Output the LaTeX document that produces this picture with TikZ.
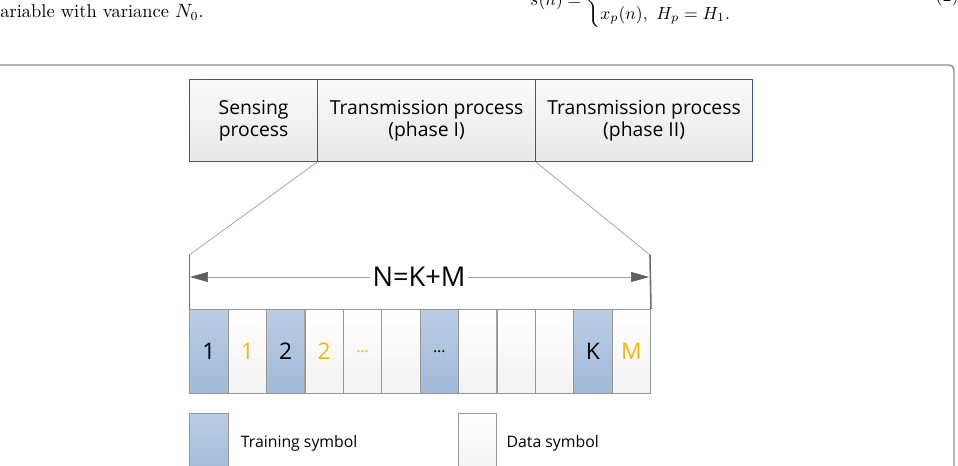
\documentclass[tikz,border=0pt]{standalone}
\usepackage{amsmath}
\usepackage{fontspec}
\newfontfamily\diagfont{Open Sans}
\usetikzlibrary{arrows.meta,positioning}
\definecolor{FrameGray}{RGB}{140,140,140}
\definecolor{BoxBlue}{RGB}{62,82,160}
\definecolor{BoxTop}{RGB}{250,250,250}
\definecolor{BoxBot}{RGB}{232,232,232}
\definecolor{TrainTop}{RGB}{186,205,228}
\definecolor{TrainBot}{RGB}{160,186,216}
\definecolor{DataTop}{RGB}{255,255,255}
\definecolor{DataBot}{RGB}{242,242,242}
\definecolor{CellGray}{RGB}{150,150,150}
\definecolor{DataGold}{RGB}{240,185,10}
\definecolor{LineGray}{RGB}{160,160,160}
\definecolor{EdgeGray}{RGB}{110,110,110}
\definecolor{TipGray}{RGB}{95,95,95}

\begin{document}
\begin{tikzpicture}[x=0.02cm, y=-0.02cm,
  procbox/.style={draw=BoxBlue, line width=0.7pt, top color=BoxTop, bottom color=BoxBot,
    minimum height=1.64cm, inner sep=0pt, align=center, anchor=north west,
    font=\diagfont\fontsize{11}{12.5}\selectfont},
  cellbox/.style={draw=CellGray, line width=0.5pt, minimum width=0.768cm, minimum height=1.68cm,
    inner sep=0pt, anchor=north west, font=\diagfont\fontsize{13}{15}\selectfont},
  traincell/.style={cellbox, top color=TrainTop, bottom color=TrainBot},
  datacell/.style={cellbox, top color=DataTop, bottom color=DataBot, text=DataGold},
  legendtext/.style={inner sep=0pt, yshift=0.06cm, font=\diagfont\fontsize{9}{11}\selectfont},
  bigtip/.style={-{Triangle[length=0.36cm, width=0.2cm, color=TipGray]}}]
  \useasboundingbox (0,0) rectangle (958,466);
  \clip (0,0) rectangle (958,466);
  \fill[white] (0,0) rectangle (958,466);

  % Page text around the figure
  \node[anchor=base west, inner sep=0pt, font=\fontsize{10.5}{12}\selectfont] (varText) at (0,18) {ariable with variance $N_0$.};
  \node[anchor=base east, inner sep=0pt, font=\fontsize{10}{12}\selectfont] (eqCase) at (750,6)
    {$s(n) = \begin{cases}\phantom{x_p(n),\ H_p = H_0,}\\ x_p(n),\ H_p = H_1.\end{cases}$};
  \node[anchor=base west, inner sep=0pt, font=\fontsize{10.5}{12}\selectfont] (eqNum) at (935,2) {(2)};

  % Figure frame
  \draw[FrameGray, line width=0.8pt, rounded corners=0.1cm] (-20,65) rectangle (954,490);

  % Process boxes
  \node[procbox, minimum width=2.56cm] (sense) at (189,79) {Sensing\\process};
  \node[procbox, minimum width=4.36cm] (phaseOne) at (317,79) {Transmission process\\(phase I)};
  \node[procbox, minimum width=4.34cm] (phaseTwo) at (535,79) {Transmission process\\(phase II)};

  % Symbol frame
  \foreach \i/\lab in {1/1, 3/2, 7/{\fontsize{9}{11}\selectfont\ldots}, 11/K}{
    \node[traincell] (c\i) at ({189.3+(\i-1)*38.4},309) {\lab};
  }
  \foreach \i/\lab in {2/1, 4/2, 5/{\fontsize{9}{11}\selectfont\ldots}, 6/{}, 8/{}, 9/{}, 10/{}, 12/M}{
    \node[datacell] (c\i) at ({189.3+(\i-1)*38.4},309) {\lab};
  }

  % Zoom lines and length marker
  \coordinate (brL) at (189.3,255);
  \coordinate (brR) at (650,255);
  \draw[LineGray, line width=0.4pt] (phaseOne.south west) -- (brL);
  \draw[LineGray, line width=0.4pt] (phaseOne.south east) -- (brR);
  \draw[EdgeGray, line width=0.9pt] (brL) -- (c1.north west);
  \draw[EdgeGray, line width=0.9pt] (brR) -- (c12.north east);
  \node[fill=white, inner sep=1pt, font=\diagfont\fontsize{15.5}{18}\selectfont] (total) at (419,277) {N=K+M};
  \coordinate (arL) at (190,277);
  \coordinate (arR) at (649,277);
  \draw[LineGray, line width=0.4pt, bigtip] (total) -- (arL);
  \draw[LineGray, line width=0.4pt, bigtip] (total) -- (arR);

  % Legend
  \node[traincell, minimum height=1.3cm] (legTrain) at (189.3,413) {};
  \node[legendtext, right=0.24cm of legTrain] (legTrainText) {Training symbol};
  \node[datacell, minimum height=1.3cm] (legData) at (458,413) {};
  \node[legendtext, right=0.18cm of legData] (legDataText) {Data symbol};
\end{tikzpicture}
\end{document}
